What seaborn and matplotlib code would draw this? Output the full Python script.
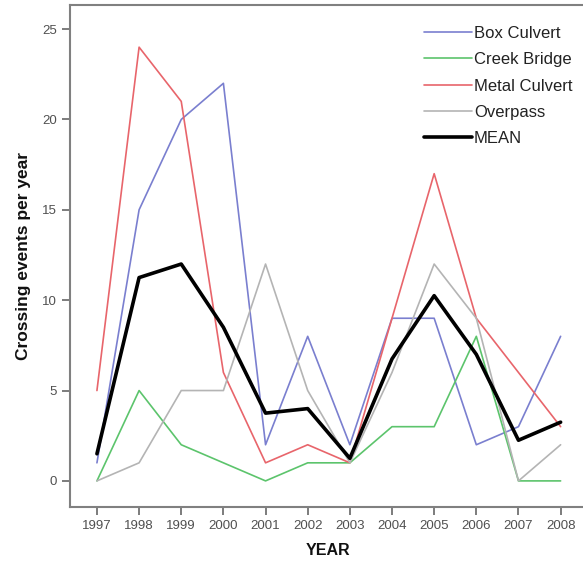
import pandas as pd
import numpy as np
import matplotlib
matplotlib.use("Agg")
import matplotlib.pyplot as plt
import seaborn as sns

years = [1997, 1998, 1999, 2000, 2001, 2002, 2003, 2004, 2005, 2006, 2007, 2008]
box_culvert = [1, 15, 20, 22, 2, 8, 2, 9, 9, 2, 3, 8]
creek_bridge = [0, 5, 2, 1, 0, 1, 1, 3, 3, 8, 0, 0]
metal_culvert = [5, 24, 21, 6, 1, 2, 1, 9, 17, 9, 6, 3]
overpass = [0, 1, 5, 5, 12, 5, 1, 6, 12, 9, 0, 2]
mean_line = [1.5, 11.25, 12, 8.5, 3.75, 4, 1.25, 6.75, 10.25, 7, 2.25, 3.25]

series_names = ["Box Culvert", "Creek Bridge", "Metal Culvert", "Overpass", "MEAN"]
series_values = [box_culvert, creek_bridge, metal_culvert, overpass, mean_line]
colors = ["#7a7fcf", "#5cc46c", "#e8656b", "#b4b4b4", "#000000"]

sns.set_style("white")
plt.rcParams["font.family"] = ["Liberation Sans", "DejaVu Sans"]

df = pd.concat([pd.DataFrame({"Year": years, "Count": v, "Type": n})
                for n, v in zip(series_names, series_values)], ignore_index=True)

fig = plt.figure(figsize=(5.83, 5.62), dpi=100)
ax = fig.add_axes([0.120, 0.098, 0.885, 0.893])

sns.lineplot(data=df, x="Year", y="Count", hue="Type", hue_order=series_names,
             palette=dict(zip(series_names, colors)), size="Type",
             sizes={"Box Culvert": 1.2, "Creek Bridge": 1.2, "Metal Culvert": 1.2,
                    "Overpass": 1.2, "MEAN": 2.6},
             ax=ax, legend=True)

ax.set_xlim(1996.36, 2008.6)
ax.set_ylim(-1.44, 26.33)
ax.set_xticks(years)
ax.set_yticks([0, 5, 10, 15, 20, 25])
ax.tick_params(axis="both", direction="out", length=6, width=1.2, color="#666666",
               labelcolor="#505050", labelsize=9.5, bottom=True, left=True)
for s in ["left", "bottom", "top"]:
    ax.spines[s].set_color("#808080")
    ax.spines[s].set_linewidth(1.5)
ax.spines["right"].set_visible(False)

ax.set_xlabel("YEAR", fontsize=11.5, fontweight="bold", labelpad=8, color="#111111")
ax.set_ylabel("Crossing events per year", fontsize=12.5, fontweight="bold", labelpad=8,
              color="#111111")

handles, labels = ax.get_legend_handles_labels()
leg = ax.legend(handles, labels, loc="upper right", bbox_to_anchor=(1.0, 0.985),
                frameon=False, fontsize=12, handlelength=2.9, handletextpad=0.1,
                labelspacing=0.68, borderpad=0.3)
for t in leg.get_texts():
    t.set_color("#222222")

fig.savefig("out.png", dpi=100)
